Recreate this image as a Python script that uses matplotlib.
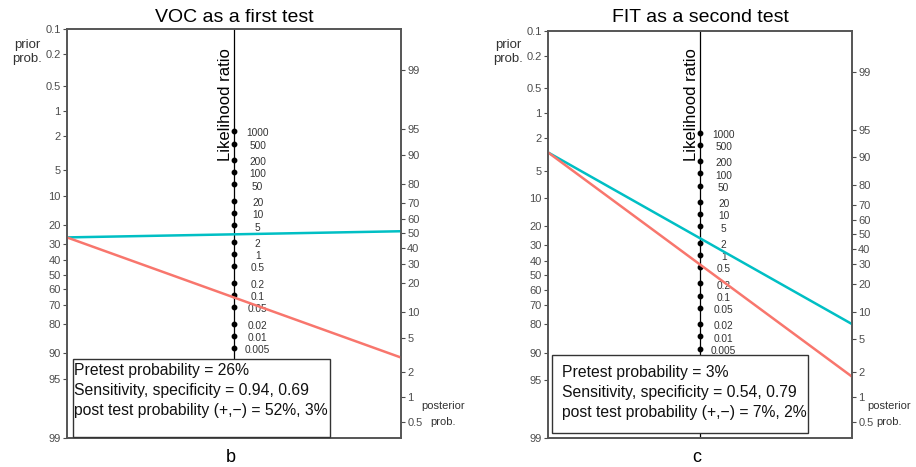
import numpy as np
import matplotlib.pyplot as plt

# Fagan nomograms for the two tests
titles = ['VOC as a first test', 'FIT as a second test']
tags = ['b', 'c']
prior = [0.26, 0.03]
sens = [0.94, 0.54]
spec = [0.69, 0.79]
post_pos = ['52%', '7%']
post_neg = ['3%', '2%']

prior_ticks = [0.1, 0.2, 0.5, 1, 2, 5, 10, 20, 30, 40, 50, 60, 70, 80, 90, 95, 99]
post_ticks = [0.5, 1, 2, 5, 10, 20, 30, 40, 50, 60, 70, 80, 90, 95, 99]
lr_ticks = [1000, 500, 200, 100, 50, 20, 10, 5, 2, 1, 0.5, 0.2, 0.1, 0.05, 0.02, 0.01, 0.005]

W, H = 916, 467
font = ['Liberation Sans', 'DejaVu Sans']
grey = '#4d4d4d'
red = '#F8766D'
cyan = '#00BFC4'


def logit(p):
    return np.log(p / (1 - p))


ytop = -logit(0.001)
ybot = -logit(0.99)
shift = (ytop + ybot) / 2

fig = plt.figure(figsize=(W / 100, H / 100), dpi=100)

# axes boxes in pixels: left, top, right, bottom
boxes = [(67, 29, 401, 438), (548, 31, 852, 438)]
legend_boxes = [(73, 359, 330, 437), (552, 355, 808, 433)]
legend_text_x = [74, 562]
legend_text_y = [370, 372]
post_label_x = [443, 889]


def fx(x):
    return x / W


def fy(y):
    return 1 - y / H


for i in range(2):
    l, t, r, b = boxes[i]
    ax = fig.add_axes([fx(l), fy(b), (r - l) / W, (b - t) / H])
    ax.set_xlim(-1, 1)
    ax.set_ylim(ybot, ytop)
    ax.set_xticks([])
    ax.set_yticks([-logit(p / 100) for p in prior_ticks])
    ax.set_yticklabels(['%g' % p for p in prior_ticks], family=font, fontsize=8, color=grey)
    ax.tick_params(axis='y', length=3, width=0.8, color=grey, pad=1.5)
    for s in ax.spines.values():
        s.set_color('#555555')
        s.set_linewidth(1.2)

    ax2 = ax.twinx()
    ax2.set_ylim(ybot, ytop)
    ax2.set_yticks([logit(p / 100) + shift for p in post_ticks])
    ax2.set_yticklabels(['%g' % p for p in post_ticks], family=font, fontsize=8, color=grey)
    ax2.tick_params(axis='y', length=3, width=0.8, color=grey, pad=1.5)
    for s in ax2.spines.values():
        s.set_color('#555555')
        s.set_linewidth(1.2)

    # likelihood ratio axis in the middle
    ax.axvline(0, color='black', lw=0.9, zorder=2)
    lr_y = [(np.log(v) + shift) / 2 for v in lr_ticks]
    ax.plot([0] * len(lr_ticks), lr_y, 'o', color='black', ms=3.2, zorder=3)
    for v, yy in zip(lr_ticks, lr_y):
        ax.annotate('%g' % v, (0, yy), xytext=(17, -1.5), textcoords='offset points',
                    ha='center', va='center', family=font, fontsize=7.3, color='#333333')

    # lines through LR+ and LR-
    lrp = sens[i] / (1 - spec[i])
    lrn = (1 - sens[i]) / spec[i]
    y0 = -logit(prior[i])
    ax.plot([-1, 1], [y0, logit(prior[i]) + np.log(lrp) + shift], color=cyan, lw=1.8, zorder=4)
    ax.plot([-1, 1], [y0, logit(prior[i]) + np.log(lrn) + shift], color=red, lw=1.8, zorder=4)

    # summary box
    bl, bt, br, bb = legend_boxes[i]
    rect = plt.Rectangle((fx(bl), fy(bb)), (br - bl) / W, (bb - bt) / H, transform=fig.transFigure,
                         facecolor='white', edgecolor='#333333', lw=1.0, zorder=5)
    fig.add_artist(rect)
    lines = ['Pretest probability = %d%%' % round(prior[i] * 100),
             'Sensitivity, specificity = %.2f, %.2f' % (sens[i], spec[i]),
             'post test probability (+,\u2212) = %s, %s' % (post_pos[i], post_neg[i])]
    for k, s in enumerate(lines):
        fig.text(fx(legend_text_x[i]), fy(legend_text_y[i] + 20 * k), s, ha='left', va='center',
                 family=font, fontsize=11.3, color='#111111', zorder=6)

    mid = (l + r) / 2
    fig.text(fx(mid), fy(17), titles[i], ha='center', va='center', family=font, fontsize=14)
    fig.text(fx(mid - 9), fy(48), 'Likelihood ratio', rotation=90, ha='center', va='top',
             family=font, fontsize=12)
    fig.text(fx(l - 40), fy(52), 'prior\nprob.', ha='center', va='center', family=font,
             fontsize=9.5, color='#333333', linespacing=1.3)
    fig.text(fx(post_label_x[i]), fy(406), 'posterior', ha='center', va='center', family=font,
             fontsize=8, color='#333333')
    fig.text(fx(post_label_x[i]), fy(422), 'prob.', ha='center', va='center', family=font,
             fontsize=8, color='#333333')
    fig.text(fx(mid - 3), fy(458), tags[i], ha='center', va='center', family=font, fontsize=13)

fig.savefig('out.png', dpi=100)
